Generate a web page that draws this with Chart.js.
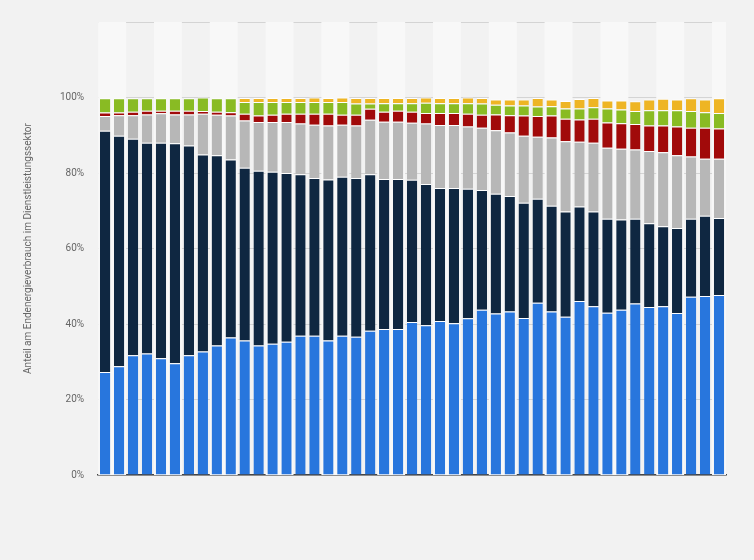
<!DOCTYPE html>
<html><head><meta charset="utf-8">
<script src="https://cdn.jsdelivr.net/npm/chart.js@4/dist/chart.umd.min.js"></script>
<style>html,body{margin:0;padding:0;background:#f2f2f2;}#wrap{width:754px;height:560px;}</style>
</head><body><div id="wrap"><canvas id="c" width="754" height="560"></canvas></div>
<script>
const categories = Array.from({length:45},(_, i)=>String(i+1));
const seriesA = [27.3,28.8,31.7,32.2,30.9,29.6,31.7,32.7,34.3,36.4,35.6,34.3,34.8,35.3,36.9,36.9,35.6,36.9,36.6,38.2,38.7,38.7,40.5,39.7,40.8,40.2,41.5,43.8,42.8,43.3,41.6,45.6,43.3,41.9,46.1,44.7,43.0,43.8,45.4,44.5,44.7,42.9,47.2,47.4,47.7];
const seriesB = [63.9,61.1,57.4,55.8,57.1,58.3,55.6,52.2,50.4,47.2,45.8,46.3,45.5,44.7,42.8,41.8,42.7,42.1,42.1,41.5,39.7,39.7,37.7,37.4,35.2,35.8,34.3,31.7,31.7,30.6,30.5,27.6,28.0,27.9,25.0,25.1,24.9,23.9,22.5,22.2,21.2,22.5,20.7,21.3,20.4];
const seriesC = [3.9,5.4,6.2,7.5,7.8,7.6,8.2,10.8,10.7,11.6,12.5,12.9,13.2,13.5,13.4,14.1,14.3,13.8,13.9,14.4,15.2,15.2,15.1,16.0,16.7,16.7,16.5,16.5,16.8,16.8,17.8,16.4,18.1,18.6,17.2,18.2,18.8,18.7,18.3,19.1,19.6,19.3,16.5,15.1,15.7];
const seriesD = [0.9,0.7,0.9,1.0,0.7,1.0,1.0,0.7,0.8,0.9,1.8,1.7,1.9,2.2,2.6,2.9,3.1,2.6,2.8,2.9,2.6,2.9,2.9,2.8,3.2,3.2,3.4,3.4,4.2,4.6,5.3,5.5,5.8,6.0,5.9,6.4,6.7,6.8,6.8,6.8,7.1,7.6,7.6,8.2,8.0];
const seriesE = [3.8,3.8,3.6,3.3,3.3,3.3,3.3,3.6,3.6,3.7,3.1,3.6,3.4,3.1,3.1,3.1,3.1,3.4,3.0,1.4,2.3,2.0,2.3,2.7,2.6,2.6,2.8,3.0,2.6,2.6,2.7,2.5,2.5,2.7,2.9,3.0,3.7,3.6,3.4,4.0,4.0,4.3,4.4,4.1,4.1];
const seriesF = [0,0,0,0,0,0,0,0,0,0,1.1,1.1,1.1,1.1,1.1,1.2,1.1,1.2,1.5,1.5,1.4,1.4,1.4,1.4,1.4,1.4,1.5,1.5,1.4,1.6,1.6,2.3,1.8,2.0,2.5,2.5,2.1,2.4,2.6,2.9,3.1,2.9,3.4,3.4,3.9];
const yTicks = [0,20,40,60,80,100];

const bands = {
  id:'bands',
  beforeDatasetsDraw(chart){
    const {ctx, chartArea:a, scales:{x}} = chart;
    const step = x.getPixelForValue(1) - x.getPixelForValue(0);
    ctx.save();
    for(let i=0;i<categories.length;i+=4){
      const l = x.getPixelForValue(i) - step/2;
      const r = x.getPixelForValue(Math.min(i+1,categories.length-1)) + step/2;
      ctx.fillStyle = '#f8f8f8';
      ctx.fillRect(l, a.top, r-l, a.bottom-a.top);
    }
    ctx.restore();
  }
};
const mk=(label,data,color)=>({label,data,backgroundColor:color,borderColor:'#ffffff',borderWidth:{top:1,bottom:0,left:0,right:0},borderSkipped:false});
new Chart(document.getElementById('c'),{
  type:'bar',
  data:{labels:categories,datasets:[
    mk('A',seriesA,'#2876dd'),mk('B',seriesB,'#0f2741'),mk('C',seriesC,'#b7b7b7'),
    mk('D',seriesD,'#a10a0a'),mk('E',seriesE,'#89bb23'),mk('F',seriesF,'#eeb524')]},
  options:{
    responsive:false,animation:false,
    layout:{padding:{top:22,right:28,bottom:77,left:18}},
    datasets:{bar:{categoryPercentage:1,barPercentage:0.74}},
    plugins:{legend:{display:false},tooltip:{enabled:false}},
    scales:{
      x:{stacked:true,offset:true,ticks:{display:false},grid:{display:false},border:{display:true,color:'#444',width:1.5}},
      y:{stacked:true,min:0,max:120,afterBuildTicks(s){s.ticks=yTicks.concat([120]).map(v=>({value:v}));},
        ticks:{color:'#666',font:{family:'Roboto',size:10},padding:14,callback:v=>v<=100?v+'%':''},
        grid:{color:'#d4d4d4',borderDash:[1,2],drawTicks:false},border:{display:false},
        title:{display:true,text:'Anteil am Endenergieverbrauch im Dienstleistungssektor',color:'#666',font:{family:'Roboto',size:10},padding:{bottom:12}}}
    }
  },
  plugins:[bands]
});
</script></body></html>
